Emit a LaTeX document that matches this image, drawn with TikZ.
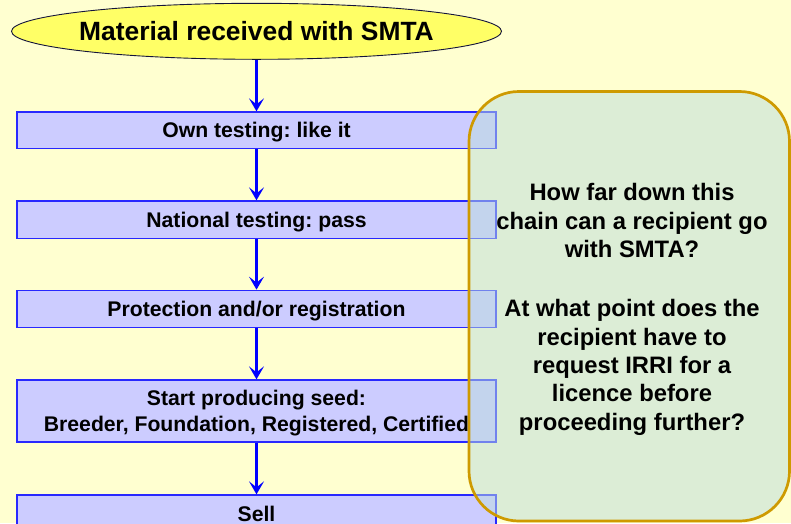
\documentclass[tikz,border=0pt]{standalone}
\usepackage{fontspec}
\setmainfont{Liberation Sans}
\usetikzlibrary{arrows.meta,shapes.geometric}
\frenchspacing

\definecolor{pagebg}{RGB}{255,255,208}
\definecolor{ovalfill}{RGB}{255,255,102}
\definecolor{ovalline}{RGB}{20,20,60}
\definecolor{stepfill}{RGB}{204,204,255}
\definecolor{stepline}{RGB}{40,40,255}
\definecolor{flowblue}{RGB}{0,0,255}
\definecolor{notefill}{RGB}{187,221,220}
\definecolor{noteline}{RGB}{206,154,0}

\begin{document}
\begin{tikzpicture}[x=1pt,y=-1pt,
  stepfont/.style={font=\fontsize{21.2}{26.7}\selectfont\bfseries},
  stepbox/.style={draw=stepline, line width=1.3pt, fill=stepfill,
    minimum width=479pt, inner sep=0pt, stepfont,
    text height=15.2pt, text depth=0pt},
  flow/.style={draw=flowblue, line width=2.5pt,
    -{Stealth[length=13pt,width=15pt,inset=6pt]}},
  notebox/.style={draw=noteline, line width=2.7pt, fill=notefill,
    fill opacity=0.5, rounded corners=50pt, inner sep=0pt},
  notefont/.style={font=\fontsize{23.8}{28.3}\selectfont\bfseries},
]
% page background
\fill[pagebg] (0,0) rectangle (791,523);
\useasboundingbox (0,0) rectangle (791,523);

% starting oval
\node[ellipse, draw=ovalline, line width=0.9pt, fill=ovalfill,
  minimum width=490pt, minimum height=56pt, inner sep=0pt,
  label={[font=\fontsize{26.4}{30}\selectfont\bfseries, text height=18pt,
    text depth=0pt, inner sep=0pt]center:Material received with SMTA}]
  (start) at (256.5,31.3) {};

% chain of steps
\node[stepbox, minimum height=36.7pt] (own)  at (256.5,130.35) {Own testing: like it};
\node[stepbox, minimum height=37.3pt] (nat)  at (256.5,219.65) {National testing: pass};
\node[stepbox, minimum height=37pt]   (prot) at (256.5,308.8)  {Protection and/or registration};
\node[stepbox, minimum height=62pt]   (seed) at (256.5,411)    {};
\node[stepbox, minimum height=38pt]   (sell) at (256.5,514)    {Sell};

% the long seed line runs under the note box, so it is cut at its edge
\begin{scope}
  \clip (0,0) rectangle (468,523);
  \node[stepfont, align=center, inner sep=0pt] (seedtext) at (256.5,413)
    {Start producing seed:\\Breeder, Foundation, Registered, Certified};
\end{scope}

% connectors
\draw[flow] (start.south) -- (own.north);
\draw[flow] (own.south)   -- (nat.north);
\draw[flow] (nat.south)   -- (prot.north);
\draw[flow] (prot.south)  -- (seed.north);
\draw[flow] (seed.south)  -- (sell.north);

% question box
\node[notebox, minimum width=320.5pt, minimum height=429.5pt]
  (note) at (629.25,306.25) {};
\node[notefont, align=center, inner sep=0pt, anchor=north] (question)
  at (632,183.5)
  {How far down this\\chain can a recipient go\\with SMTA?\\[31pt]%
   At what point does the\\recipient have to\\request IRRI for a\\%
   licence before\\proceeding further?};
\end{tikzpicture}
\end{document}
